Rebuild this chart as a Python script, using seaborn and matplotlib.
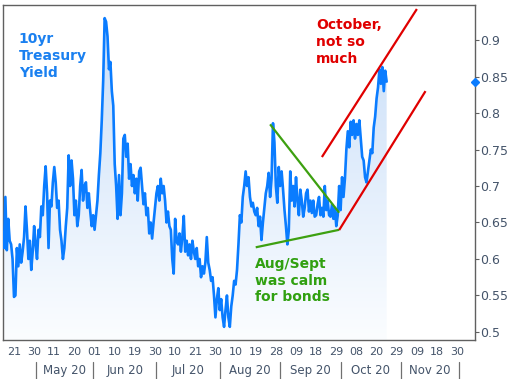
import numpy as np
import pandas as pd
import matplotlib
matplotlib.use("Agg")
import matplotlib.pyplot as plt
from matplotlib.colors import LinearSegmentedColormap
import matplotlib.transforms as mtransforms
import seaborn as sns

# ---------------- data (two readings per trading session) ----------------
HOLIDAYS = ["2020-05-25", "2020-07-03", "2020-09-07", "2020-10-12", "2020-11-26"]
START, END = "2020-04-15", "2020-12-08"

apr_vals = [0.636, 0.615, 0.685, 0.612, 0.655, 0.625, 0.62, 0.60, 0.548, 0.55,
            0.615, 0.59, 0.62, 0.595, 0.61, 0.63, 0.672, 0.64, 0.60, 0.625,
            0.585, 0.61, 0.645, 0.62]
may_vals = [0.60, 0.64, 0.63, 0.672, 0.66, 0.70, 0.727, 0.69, 0.615, 0.68,
            0.672, 0.705, 0.726, 0.705, 0.67, 0.68, 0.64, 0.625, 0.60, 0.615,
            0.645, 0.67, 0.742, 0.70, 0.735, 0.71, 0.66, 0.68, 0.645, 0.66,
            0.70, 0.722, 0.68, 0.70, 0.705, 0.67, 0.69, 0.665, 0.645, 0.66]
jun_vals = [0.64, 0.66, 0.68, 0.715, 0.745, 0.79, 0.845, 0.93, 0.925, 0.905,
            0.86, 0.87, 0.83, 0.81, 0.73, 0.70, 0.655, 0.715, 0.66, 0.69,
            0.765, 0.77, 0.74, 0.758, 0.71, 0.73, 0.70, 0.715, 0.69, 0.71,
            0.68, 0.72, 0.725, 0.70, 0.675, 0.69, 0.66, 0.67, 0.635, 0.65,
            0.628, 0.65, 0.67, 0.69]
jul_vals = [0.70, 0.68, 0.71, 0.69, 0.70, 0.68, 0.65, 0.665, 0.645, 0.64,
            0.60, 0.58, 0.655, 0.625, 0.62, 0.635, 0.61, 0.63, 0.659, 0.61,
            0.625, 0.605, 0.62, 0.60, 0.625, 0.61, 0.60, 0.615, 0.59, 0.60,
            0.575, 0.59, 0.58, 0.595, 0.63, 0.595, 0.585, 0.57, 0.575, 0.55,
            0.52, 0.545, 0.56, 0.53]
aug_vals = [0.545, 0.52, 0.507, 0.53, 0.55, 0.52, 0.507, 0.535, 0.55, 0.57,
            0.565, 0.585, 0.62, 0.66, 0.65, 0.685, 0.70, 0.72, 0.70, 0.712,
            0.685, 0.672, 0.677, 0.665, 0.66, 0.67, 0.645, 0.658, 0.626, 0.65,
            0.67, 0.69, 0.70, 0.718, 0.685, 0.71, 0.786, 0.76, 0.70, 0.677,
            0.726, 0.70]
sep_vals = [0.72, 0.695, 0.667, 0.645, 0.62, 0.64, 0.72, 0.68, 0.70, 0.672,
            0.712, 0.68, 0.66, 0.695, 0.68, 0.658, 0.67, 0.69, 0.695, 0.665,
            0.68, 0.663, 0.68, 0.658, 0.66, 0.675, 0.685, 0.66, 0.67, 0.658,
            0.70, 0.667, 0.68, 0.66, 0.658, 0.675, 0.655, 0.67, 0.645, 0.66,
            0.70, 0.667]
oct_vals = [0.712, 0.685, 0.71, 0.75, 0.775, 0.753, 0.788, 0.77, 0.79, 0.765,
            0.785, 0.77, 0.79, 0.765, 0.74, 0.735, 0.712, 0.705, 0.72, 0.735,
            0.75, 0.745, 0.78, 0.795, 0.82, 0.835, 0.86, 0.84, 0.863, 0.83,
            0.858, 0.843]

TICK_DATES = ["2020-04-21", "2020-04-30", "2020-05-11", "2020-05-20", "2020-06-01",
              "2020-06-10", "2020-06-19", "2020-06-30", "2020-07-10", "2020-07-21",
              "2020-07-30", "2020-08-10", "2020-08-19", "2020-08-28", "2020-09-09",
              "2020-09-18", "2020-09-29", "2020-10-08", "2020-10-20", "2020-10-29",
              "2020-11-09", "2020-11-18", "2020-11-30"]
MONTH_LABELS = ["May 20", "Jun 20", "Jul 20", "Aug 20", "Sep 20", "Oct 20", "Nov 20"]
MONTH_STARTS = ["2020-05-01", "2020-06-01", "2020-07-01", "2020-08-01",
                "2020-09-01", "2020-10-01", "2020-11-01", "2020-12-01"]
Y_TICKS = [0.5, 0.55, 0.6, 0.65, 0.7, 0.75, 0.8, 0.85, 0.9]

# annotation lines: (session date, yield) endpoints
GREEN_DOWN = [("2020-08-26", 0.7845), ("2020-09-30", 0.6634)]
GREEN_FLAT = [("2020-08-19", 0.616), ("2020-09-30", 0.640)]
RED_UPPER = [("2020-09-22", 0.7397), ("2020-11-09", 0.9425)]
RED_LOWER = [("2020-09-30", 0.6397), ("2020-11-12", 0.830)]

# ---------------- build ----------------
sessions = pd.bdate_range(START, END, freq="C", holidays=HOLIDAYS)
vals = np.array(apr_vals + may_vals + jun_vals + jul_vals + aug_vals + sep_vals + oct_vals)
n_sess = len(vals) // 2
pos = np.repeat(np.arange(n_sess), 2) + np.tile([0.0, 0.5], n_sess)
df = pd.DataFrame({"pos": pos, "yield": vals})

def spos(d):
    ts = pd.Timestamp(d)
    return float(sessions.searchsorted(ts))

W, H = 514, 379
fig = plt.figure(figsize=(W / 100, H / 100), dpi=100)
sns.set_style("white")
plt.rcParams["font.family"] = ["DejaVu Sans"]
ax = fig.add_axes([3 / W, (H - 340) / H, (475 - 3) / W, (340 - 5) / H])

XMIN, XMAX = 0.18, 164.2
YMIN, YMAX = 0.489, 0.948
ax.set_xlim(XMIN, XMAX)
ax.set_ylim(YMIN, YMAX)

BLUE = "#0a7cff"
# gradient fill under the line
poly = ax.fill_between(df["pos"], df["yield"], YMIN, color="none", lw=0)
cmap = LinearSegmentedColormap.from_list("g", ["#fbfdff", "#c7ddf8"])
grad = np.linspace(0, 1, 256).reshape(-1, 1)
im = ax.imshow(grad, extent=[XMIN, XMAX, YMIN, YMAX], origin="lower",
               aspect="auto", cmap=cmap, zorder=1)
im.set_clip_path(poly.get_paths()[0], transform=ax.transData)

sns.lineplot(data=df, x="pos", y="yield", ax=ax, color=BLUE, lw=1.9, zorder=3)
ax.plot([XMAX], [vals[-1]], marker="D", ms=4.5, color=BLUE, clip_on=False, zorder=5)

for seg, col in [(GREEN_DOWN, "#3da010"), (GREEN_FLAT, "#3da010"),
                 (RED_UPPER, "#e00000"), (RED_LOWER, "#e00000")]:
    ax.plot([spos(seg[0][0]), spos(seg[1][0])], [seg[0][1], seg[1][1]],
            color=col, lw=1.6, zorder=4, solid_capstyle="butt")

# texts
ax.text(5.7, 0.911, "10yr\nTreasury\nYield", color="#1a80f0", fontsize=10,
        fontweight="bold", va="top", ha="left", linespacing=1.25, zorder=6)
ax.text(109, 0.930, "October,\nnot so\nmuch", color="#e00000", fontsize=10,
        fontweight="bold", va="top", ha="left", linespacing=1.25, zorder=6)
ax.text(87.8, 0.603, "Aug/Sept\nwas calm\nfor bonds", color="#30a010", fontsize=10,
        fontweight="bold", va="top", ha="left", linespacing=1.25, zorder=6)

# axes styling
LBL = "#44546a"
for s in ax.spines.values():
    s.set_color("#606060")
    s.set_linewidth(1.0)
ax.yaxis.tick_right()
ax.set_yticks(Y_TICKS)
ax.set_yticklabels([f"{v:g}" for v in Y_TICKS])
ax.tick_params(axis="y", which="major", direction="out", length=3, width=0.8,
               color="#606060", labelcolor=LBL, labelsize=9, pad=1)
tick_pos = [spos(d) for d in TICK_DATES]
ax.set_xticks(tick_pos)
ax.set_xticklabels([pd.Timestamp(d).strftime("%d") for d in TICK_DATES])
sep_pos = [spos(d) - 0.5 for d in MONTH_STARTS]
ax.set_xticks(sep_pos, minor=True)
ax.tick_params(axis="x", which="both", direction="out", length=3, width=0.8,
               color="#606060", labelcolor=LBL, labelsize=8, pad=2)
ax.set_xlabel("")
ax.set_ylabel("")

trans = mtransforms.blended_transform_factory(ax.transData, ax.transAxes)
for xs in sep_pos:
    ax.plot([xs, xs], [-0.066, -0.116], transform=trans, color="#707070",
            lw=0.9, clip_on=False)
for i, lab in enumerate(MONTH_LABELS):
    xm = (sep_pos[i] + sep_pos[i + 1]) / 2
    ax.text(xm, -0.092, lab, transform=trans, ha="center", va="center",
            fontsize=8.5, color=LBL, clip_on=False)

fig.savefig("out.png", dpi=100)
